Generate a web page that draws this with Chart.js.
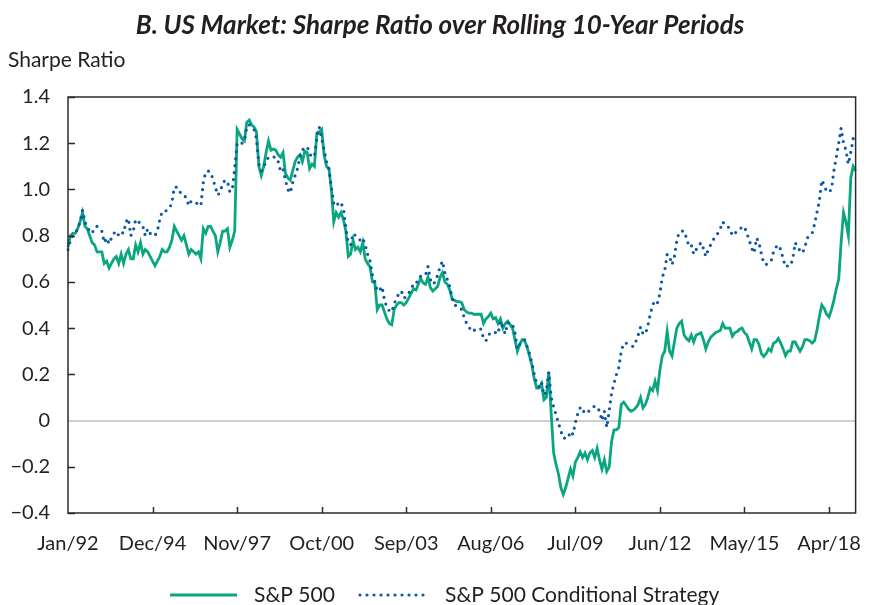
<!DOCTYPE html>
<html>
<head>
<meta charset="utf-8">
<script src="https://cdn.jsdelivr.net/npm/chart.js@4.4.1/dist/chart.umd.min.js"></script>
<style>
  html, body { margin: 0; padding: 0; background: #fff; }
  #wrap { width: 880px; height: 605px; }
</style>
</head>
<body>
<div id="wrap"><canvas id="sharpe-chart" width="880" height="605"></canvas></div>
<script>
// monthly rolling 10-year Sharpe ratios, Jan/92 .. Mar/19
const monthNames = ['Jan', 'Feb', 'Mar', 'Apr', 'May', 'Jun', 'Jul', 'Aug', 'Sep', 'Oct', 'Nov', 'Dec'];
const tickLabels = ['Jan/92', 'Dec/94', 'Nov/97', 'Oct/00', 'Sep/03', 'Aug/06', 'Jul/09', 'Jun/12', 'May/15', 'Apr/18'];
const tickEvery = 35;

const sp500 = [
  0.75, 0.80, 0.81, 0.81, 0.83, 0.86, 0.90, 0.84, 0.83, 0.80,
  0.77, 0.76, 0.73, 0.73, 0.73, 0.68, 0.69, 0.66, 0.68, 0.70,
  0.71, 0.68, 0.72, 0.68, 0.72, 0.74, 0.70, 0.70, 0.76, 0.73,
  0.77, 0.72, 0.74, 0.73, 0.71, 0.69, 0.67, 0.69, 0.71, 0.74,
  0.73, 0.73, 0.75, 0.78, 0.84, 0.82, 0.80, 0.78, 0.80, 0.76,
  0.72, 0.74, 0.73, 0.72, 0.73, 0.70, 0.83, 0.81, 0.84, 0.84,
  0.82, 0.80, 0.73, 0.77, 0.82, 0.82, 0.83, 0.75, 0.78, 0.82,
  1.26, 1.24, 1.22, 1.21, 1.29, 1.30, 1.28, 1.27, 1.25, 1.10,
  1.06, 1.10, 1.16, 1.21, 1.17, 1.175, 1.17, 1.15, 1.14, 1.16,
  1.07, 1.05, 1.04, 1.08, 1.12, 1.14, 1.15, 1.12, 1.165, 1.16,
  1.09, 1.11, 1.10, 1.245, 1.25, 1.26, 1.15, 1.10, 1.09, 1.00,
  0.86, 0.90, 0.88, 0.90, 0.87, 0.82, 0.71, 0.72, 0.78, 0.74,
  0.75, 0.73, 0.77, 0.70, 0.68, 0.665, 0.60, 0.595, 0.48, 0.50,
  0.50, 0.47, 0.44, 0.42, 0.414, 0.48, 0.50, 0.51, 0.51, 0.50,
  0.51, 0.53, 0.55, 0.57, 0.565, 0.59, 0.616, 0.595, 0.59, 0.62,
  0.575, 0.56, 0.57, 0.58, 0.62, 0.64, 0.60, 0.59, 0.565, 0.525,
  0.52, 0.515, 0.515, 0.51, 0.48, 0.47, 0.465, 0.465, 0.46, 0.46,
  0.46, 0.46, 0.42, 0.44, 0.45, 0.465, 0.44, 0.445, 0.42, 0.44,
  0.40, 0.42, 0.43, 0.415, 0.40, 0.35, 0.30, 0.33, 0.35, 0.345,
  0.32, 0.28, 0.24, 0.18, 0.14, 0.14, 0.16, 0.09, 0.10, 0.21,
  0.03, -0.14, -0.19, -0.23, -0.29, -0.32, -0.29, -0.25, -0.21, -0.24,
  -0.18, -0.16, -0.135, -0.16, -0.14, -0.17, -0.14, -0.13, -0.16, -0.12,
  -0.17, -0.21, -0.17, -0.22, -0.20, -0.09, -0.04, -0.04, -0.03, 0.07,
  0.08, 0.065, 0.05, 0.04, 0.045, 0.055, 0.07, 0.10, 0.055, 0.07,
  0.10, 0.14, 0.13, 0.17, 0.13, 0.22, 0.28, 0.30, 0.385, 0.30,
  0.28, 0.34, 0.40, 0.42, 0.43, 0.37, 0.355, 0.345, 0.37, 0.34,
  0.37, 0.375, 0.38, 0.35, 0.31, 0.34, 0.36, 0.37, 0.38, 0.385,
  0.39, 0.42, 0.40, 0.40, 0.40, 0.365, 0.38, 0.385, 0.395, 0.40,
  0.38, 0.37, 0.34, 0.31, 0.35, 0.35, 0.33, 0.29, 0.277, 0.29,
  0.31, 0.30, 0.335, 0.34, 0.355, 0.335, 0.31, 0.28, 0.30, 0.30,
  0.34, 0.34, 0.32, 0.30, 0.32, 0.35, 0.35, 0.345, 0.335, 0.345,
  0.39, 0.45, 0.50, 0.485, 0.46, 0.448, 0.48, 0.52, 0.57, 0.61,
  0.77, 0.90, 0.86, 0.80, 1.05, 1.10, 1.08
];

const conditional = [
  0.74, 0.78, 0.80, 0.81, 0.83, 0.86, 0.91, 0.86, 0.835, 0.82,
  0.81, 0.835, 0.84, 0.83, 0.82, 0.77, 0.79, 0.765, 0.79, 0.81,
  0.82, 0.80, 0.815, 0.81, 0.86, 0.875, 0.80, 0.82, 0.87, 0.86,
  0.855, 0.84, 0.80, 0.83, 0.81, 0.80, 0.80, 0.82, 0.87, 0.905,
  0.905, 0.91, 0.92, 0.94, 1.01, 1.01, 0.99, 0.985, 0.98, 0.96,
  0.93, 0.95, 0.945, 0.94, 0.94, 0.93, 1.03, 1.075, 1.08, 1.075,
  1.045, 1.01, 0.975, 0.99, 1.025, 1.04, 1.035, 0.99, 1.00, 1.09,
  1.20, 1.205, 1.20, 1.21, 1.27, 1.28, 1.27, 1.26, 1.22, 1.11,
  1.08, 1.10, 1.12, 1.14, 1.14, 1.14, 1.14, 1.12, 1.08, 1.09,
  1.04, 1.00, 0.985, 1.03, 1.06, 1.09, 1.14, 1.17, 1.18, 1.185,
  1.155, 1.14, 1.145, 1.22, 1.27, 1.22, 1.17, 1.12, 1.09, 1.01,
  0.94, 0.95, 0.93, 0.94, 0.92, 0.83, 0.77, 0.76, 0.81, 0.80,
  0.79, 0.78, 0.79, 0.76, 0.72, 0.69, 0.63, 0.60, 0.56, 0.565,
  0.58, 0.52, 0.49, 0.475, 0.47, 0.505, 0.53, 0.55, 0.56, 0.53,
  0.535, 0.55, 0.57, 0.59, 0.59, 0.615, 0.625, 0.63, 0.63, 0.667,
  0.61, 0.59, 0.60, 0.63, 0.665, 0.69, 0.64, 0.61, 0.58, 0.53,
  0.50, 0.495, 0.49, 0.48, 0.445, 0.42, 0.405, 0.385, 0.39, 0.395,
  0.40, 0.395, 0.355, 0.345, 0.37, 0.38, 0.385, 0.38, 0.375, 0.43,
  0.40, 0.375, 0.425, 0.415, 0.415, 0.38, 0.31, 0.33, 0.34, 0.35,
  0.32, 0.29, 0.25, 0.20, 0.16, 0.145, 0.165, 0.11, 0.125, 0.21,
  0.10, 0.06, 0.025, -0.01, -0.045, -0.076, -0.076, -0.076, -0.047, -0.06,
  -0.01, 0.03, 0.055, 0.035, 0.045, 0.035, 0.045, 0.055, 0.063, 0.06,
  0.04, 0.0, 0.04, -0.03, 0.04, 0.12, 0.16, 0.20, 0.23, 0.30,
  0.335, 0.335, 0.33, 0.325, 0.32, 0.34, 0.37, 0.405, 0.375, 0.375,
  0.41, 0.46, 0.50, 0.52, 0.51, 0.55, 0.62, 0.65, 0.72, 0.71,
  0.675, 0.71, 0.78, 0.815, 0.82, 0.82, 0.79, 0.755, 0.76, 0.72,
  0.74, 0.755, 0.77, 0.745, 0.71, 0.74, 0.76, 0.78, 0.80, 0.81,
  0.83, 0.86, 0.845, 0.84, 0.83, 0.80, 0.81, 0.82, 0.83, 0.835,
  0.84, 0.81, 0.78, 0.745, 0.725, 0.79, 0.77, 0.72, 0.68, 0.675,
  0.685, 0.69, 0.73, 0.75, 0.76, 0.74, 0.70, 0.665, 0.67, 0.67,
  0.70, 0.77, 0.75, 0.735, 0.725, 0.75, 0.79, 0.80, 0.81, 0.85,
  0.90, 0.95, 1.04, 1.02, 0.99, 0.99, 1.00, 1.08, 1.14, 1.20,
  1.265, 1.20, 1.17, 1.11, 1.16, 1.22, 1.23
];

const months = sp500.map((v, i) => {
  const yr = (92 + Math.floor(i / 12)) % 100;
  return monthNames[i % 12] + '/' + String(yr).padStart(2, '0');
});

const textColor = '#231f20';
const green = '#0aa67f';
const blue = '#0a59a8';

Chart.defaults.font.family = 'Lato, "Open Sans", sans-serif';
Chart.defaults.color = textColor;

// frame round the plot with ticks pointing inward, like the original
const framePlugin = {
  id: 'frame',
  afterDatasetsDraw(chart) {
    const { ctx, chartArea: a, scales: { x, y } } = chart;
    ctx.save();
    ctx.strokeStyle = '#2b2b2b';
    ctx.lineWidth = 1.5;
    ctx.strokeRect(a.left, a.top, a.right - a.left, a.bottom - a.top);
    ctx.beginPath();
    y.ticks.forEach(t => {
      if (Math.abs(t.value) < 1e-9) return;
      const py = Math.round(y.getPixelForValue(t.value)) + 0.5;
      ctx.moveTo(a.left, py);
      ctx.lineTo(a.left + 7, py);
    });
    for (let i = tickEvery; i < months.length; i += tickEvery) {
      const px = Math.round(x.getPixelForValue(i)) + 0.5;
      ctx.moveTo(px, a.bottom);
      ctx.lineTo(px, a.bottom - 6);
    }
    ctx.stroke();
    ctx.restore();
  }
};

// legend drawn below the x labels
const legendPlugin = {
  id: 'lineLegend',
  afterDraw(chart) {
    const { ctx } = chart;
    const items = [
      { ds: chart.data.datasets[0], x0: 170, x1: 237, tx: 254 },
      { ds: chart.data.datasets[1], x0: 360, x1: 427, tx: 445 }
    ];
    const ly = 595;
    ctx.save();
    items.forEach(it => {
      ctx.beginPath();
      ctx.strokeStyle = it.ds.borderColor;
      ctx.lineWidth = it.ds.borderWidth;
      ctx.lineCap = it.ds.borderCapStyle || 'butt';
      ctx.setLineDash(it.ds.borderDash || []);
      ctx.moveTo(it.x0, ly);
      ctx.lineTo(it.x1, ly);
      ctx.stroke();
      ctx.setLineDash([]);
      ctx.fillStyle = textColor;
      ctx.font = '21px Lato';
      ctx.textBaseline = 'middle';
      ctx.fillText(it.ds.label, it.tx, ly);
    });
    ctx.restore();
  }
};

document.addEventListener('DOMContentLoaded', function () {
  const canvas = document.getElementById('sharpe-chart');
  new Chart(canvas, {
    type: 'line',
    data: {
      labels: months,
      datasets: [{
        label: 'S&P 500',
        data: sp500,
        borderColor: green,
        borderWidth: 2.8,
        pointRadius: 0,
        tension: 0,
        order: 2
      },
      {
        label: 'S&P 500 Conditional Strategy',
        data: conditional,
        borderColor: blue,
        borderWidth: 3.2,
        borderDash: [0, 7],
        borderCapStyle: 'round',
        pointRadius: 0,
        tension: 0,
        order: 1
      }]
    },
    options: {
      responsive: false,
      animation: false,
      layout: {
        padding: { left: 8, right: 8, top: 0, bottom: 42 }
      },
      scales: {
        x: {
          type: 'category',
          grid: { display: false, drawTicks: false },
          border: { display: false },
          ticks: {
            autoSkip: false,
            maxRotation: 0,
            padding: 19,
            font: { size: 20 },
            color: textColor,
            callback: function (val, idx) {
              return idx % tickEvery === 0 ? tickLabels[idx / tickEvery] : null;
            }
          },
          afterFit: function (scale) { scale.height = 50; }
        },
        y: {
          min: -0.4,
          max: 1.4,
          grid: {
            drawTicks: false,
            lineWidth: 2,
            color: ctx => Math.abs(ctx.tick.value) < 1e-9 ? '#cfcfcf' : 'rgba(0,0,0,0)'
          },
          border: { display: false },
          ticks: {
            stepSize: 0.2,
            padding: 18,
            font: { size: 20 },
            color: textColor,
            callback: function (v) {
              if (Math.abs(v) < 1e-9) return '0';
              return v.toFixed(1).replace('-', '\u2212');
            }
          },
          afterFit: function (scale) { scale.width = 60; }
        }
      },
      plugins: {
        legend: { display: false },
        tooltip: { enabled: false },
        title: {
          display: true,
          text: 'B. US Market: Sharpe Ratio over Rolling 10-Year Periods',
          color: textColor,
          font: { size: 26, weight: 'bold', style: 'italic' },
          padding: { top: 10.4, bottom: 6 }
        },
        subtitle: {
          display: true,
          text: 'Sharpe Ratio',
          align: 'start',
          color: textColor,
          font: { size: 21 },
          padding: { top: 0, bottom: 24.2 }
        }
      }
    },
    plugins: [framePlugin, legendPlugin]
  });
});
</script>
</body>
</html>
